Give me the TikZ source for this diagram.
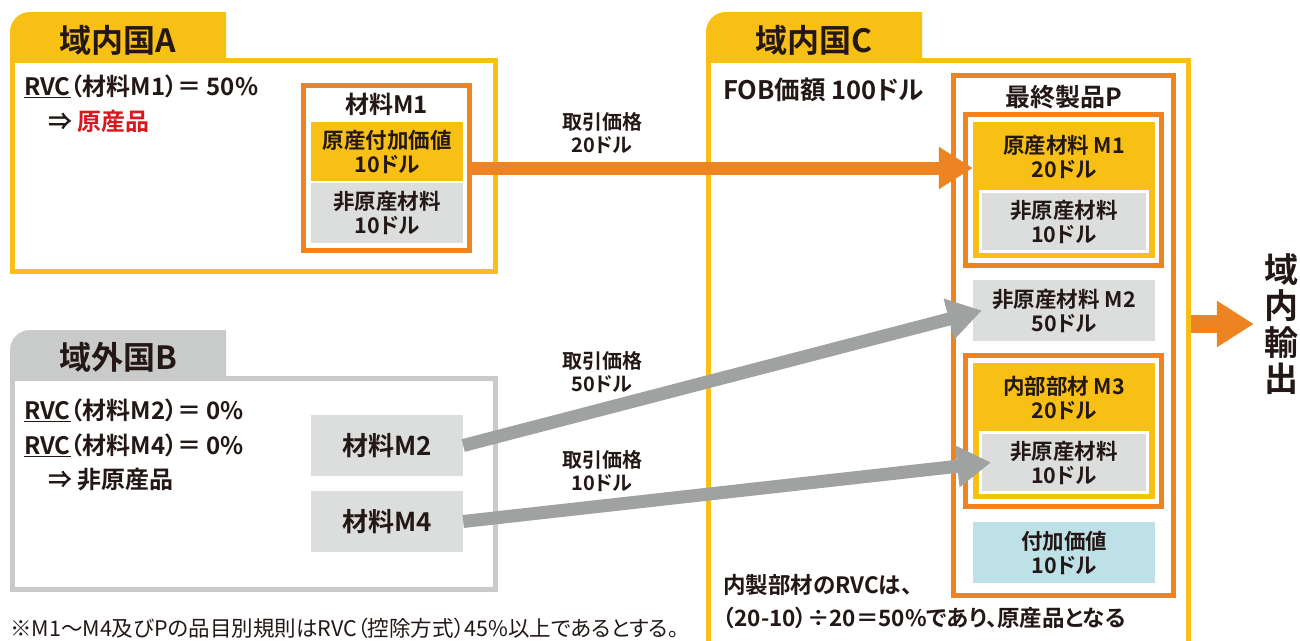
\documentclass[tikz,border=0pt]{standalone}
\usepackage{fontspec}
\setmainfont{Noto Sans CJK JP}[BoldFont={Noto Sans CJK JP Bold},RawFeature=+palt]
\newfontfamily\plainjp{Noto Sans CJK JP}[RawFeature=+palt]
\usetikzlibrary{arrows.meta}
\definecolor{gold}{HTML}{F8BF14}
\definecolor{amber}{HTML}{EE8421}
\definecolor{ash}{HTML}{C9CACA}
\definecolor{slab}{HTML}{DCDDDD}
\definecolor{pipe}{HTML}{A0A1A1}
\definecolor{aqua}{HTML}{BDE1E6}
\definecolor{alert}{HTML}{D7181F}
\definecolor{ink}{HTML}{231815}

\begin{document}
\begin{tikzpicture}[x=1pt,y=-1pt,text=ink,
  title/.style={inner sep=0pt,font=\fontsize{32}{32}\selectfont\bfseries},
  body/.style={anchor=west,inner sep=0pt,font=\fontsize{24}{24}\selectfont\bfseries},
  cell/.style={align=center,inner sep=0pt,font=\fontsize{21.5}{24}\selectfont\bfseries},
  size/.style 2 args={minimum width=#1,minimum height=#2},
  rim/.style={draw=#1,line width=5pt,inner sep=0pt},
  flow/.style={line width=13pt,-{Triangle[length=34pt,width=40pt]}}]
  \useasboundingbox (0,0) rectangle (1300,640);
  \fill[white] (0,0) rectangle (1300,640);

  % ---- country tabs ----
  \foreach \x/\y/\c in {10/12/gold,10/330/ash,706/12/gold}{
    \fill[\c] (\x,\y+48) [rounded corners=20pt] -- (\x,\y) [sharp corners]
      -- (\x+216,\y) -- (\x+216,\y+48) -- cycle;
  }
  \node[title] (tagA) at (118,40) {域内国A};
  \node[title] (tagB) at (118,357) {域外国B};
  \node[title] (tagC) at (814,40) {域内国C};

  % ---- country frames ----
  \node[rim=gold,size={483pt}{210.5pt}] (boxA) at (254,165.75) {};
  \node[rim=ash,size={483pt}{211pt}] (boxB) at (254,484) {};
  \node[rim=gold,size={480pt}{640pt}] (boxC) at (948.5,380.5) {};

  % ---- country A ----
  \node[body] (rvcA) at (24,86) {\underline{RVC}（材料M1）＝ 50\%};
  \node[body] (resA) at (48,121) {⇒ \textcolor{alert}{原産品}};
  \node[rim=amber,size={166pt}{165pt}] (m1A) at (386.5,168) {};
  \node[cell,font=\fontsize{24}{24}\selectfont\bfseries] (m1Aname) at (386.5,104) {材料M1};
  \node[cell,fill=gold,size={152pt}{59pt}] (m1Aown) at (387,151.5) {原産付加価値\\10ドル};
  \node[cell,fill=slab,size={152pt}{60pt}] (m1Anon) at (387,213) {非原産材料\\10ドル};

  % ---- country B ----
  \node[body] (rvcB2) at (24,410) {\underline{RVC}（材料M2）＝ 0\%};
  \node[body] (rvcB4) at (24,445) {\underline{RVC}（材料M4）＝ 0\%};
  \node[body] (resB) at (48,480) {⇒ 非原産品};
  \foreach \n/\y in {2/445.5,4/521.5}{
    \node[cell,fill=slab,size={152pt}{61pt},font=\fontsize{26}{26}\selectfont\bfseries]
      (m\n) at (387,\y) {材料M\n};
  }

  % ---- country C ----
  \node[body,font=\fontsize{25.5}{25.5}\selectfont\bfseries] (fob) at (723,90) {FOB価額 100ドル};
  \node[rim=amber,size={220pt}{520pt}] (prod) at (1063.5,335.5) {};
  \node[cell,font=\fontsize{25}{25}\selectfont\bfseries] (prodname) at (1063.5,97) {最終製品P};
  % originating parts (M1, M3)
  \foreach \k/\y/\txt in {1/190/原産材料 M1,3/431/内部部材 M3}{
    \node[rim=amber,size={196pt}{151pt}] (m\k box) at (1063.5,\y) {};
    \node[cell,fill=gold,size={182pt}{136pt}] (m\k C) at (1064,\y) {};
    \node[cell] (m\k name) at (1064,\y-33) {\txt\\20ドル};
    \node[cell,fill=slab,draw=white,line width=3pt,size={166.5pt}{60pt}]
      (n\k C) at (1063.75,\y+31.5) {非原産材料\\10ドル};
  }
  \node[cell,fill=slab,size={182pt}{61pt}] (m2C) at (1064,310.5) {非原産材料 M2\\50ドル};
  \node[cell,fill=aqua,size={182pt}{61pt}] (vaC) at (1064,552.5) {付加価値\\10ドル};
  \node[body,font=\fontsize{22.5}{22.5}\selectfont\bfseries] (noteC1) at (723,585) {内製部材のRVCは、};
  \node[body,font=\fontsize{22.5}{22.5}\selectfont\bfseries] (noteC2) at (723,618) {（20-10）÷20＝50\%であり、原産品となる};

  % ---- trade arrows ----
  \node[cell,font=\fontsize{20}{23}\selectfont\bfseries] (priceA) at (602,133) {取引価格\\20ドル};
  \node[cell,font=\fontsize{20}{23}\selectfont\bfseries] (price2) at (602,372) {取引価格\\50ドル};
  \node[cell,font=\fontsize{20}{23}\selectfont\bfseries] (price4) at (602,471) {取引価格\\10ドル};
  \draw[flow,amber] (m1A.east) -- (m1A.east -| m1C.west);
  \draw[flow,pipe] (m2.east) -- ([xshift=9pt]m2C.west);
  \draw[flow,pipe] (m4.east) -- ([xshift=12pt]n3C.west);

  % ---- export ----
  \node[cell,font=\fontsize{34}{36.5}\selectfont\bfseries] (exp) at (1281,324) {域\\内\\輸\\出};
  \draw[amber,line width=18pt,-{Triangle[length=37pt,width=44pt]}]
    (boxC.east |- exp) -- ([xshift=-10pt]exp.west);

  % footnote
  \node[anchor=west,inner sep=0pt,font=\plainjp\fontsize{21.5}{21.5}\selectfont] (foot) at (10,628.5)
    {※M1～M4及びPの品目別規則はRVC（控除方式）45\%以上であるとする。};
\end{tikzpicture}
\end{document}
